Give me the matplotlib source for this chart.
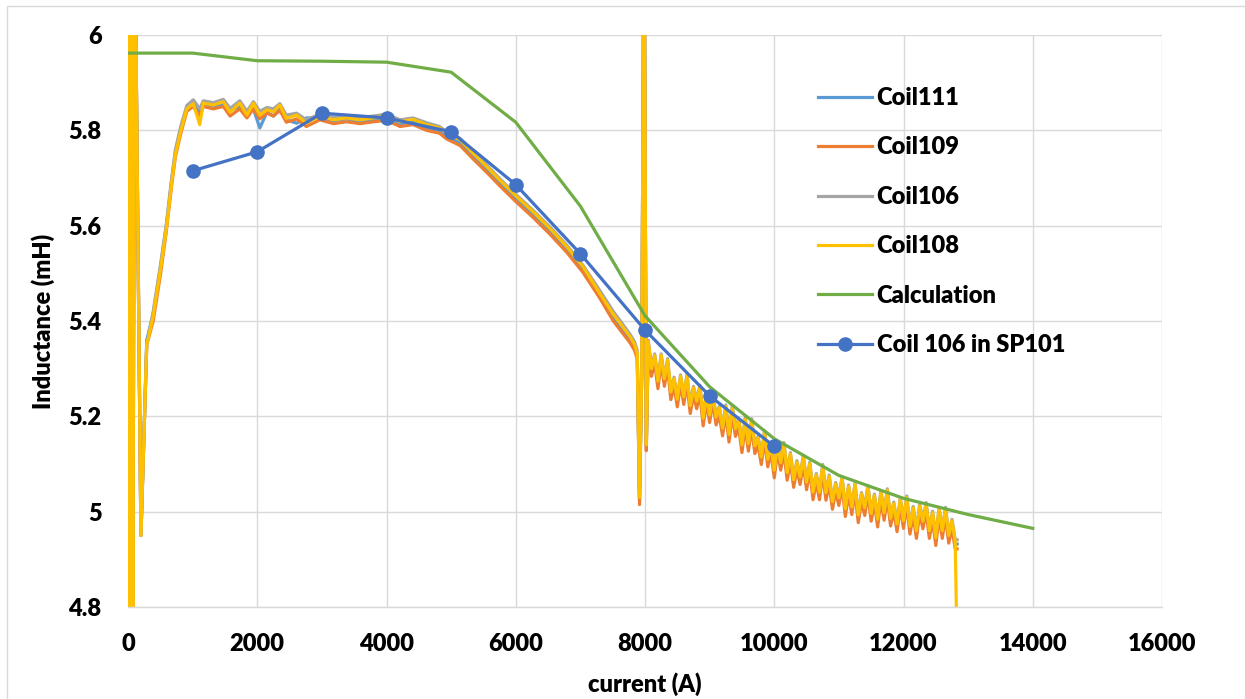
import matplotlib
matplotlib.use("Agg")
import matplotlib.pyplot as plt
from matplotlib.patches import Rectangle
from matplotlib.ticker import FuncFormatter
from matplotlib.font_manager import FontProperties

plt.rcParams['font.family'] = ['Lato', 'DejaVu Sans']
bold = FontProperties(family='Lato', weight='heavy', size=17)

# current sweep of the coil measurements (A)
current = [
    0, 25, 50, 75, 100, 200, 290, 390, 505, 590,
    676, 734, 820, 910, 1010, 1110, 1165, 1320, 1475, 1580,
    1730, 1840, 1940, 2040, 2150, 2250, 2350, 2450, 2610, 2760,
    2970, 3180, 3380, 3590, 3800, 4000, 4210, 4410, 4620, 4820,
    4930, 5140, 5340, 5550, 5750, 5990, 6270, 6530, 6790, 7040,
    7300, 7510, 7770, 7840, 7880, 7915, 7950, 7985, 8020,
    8050, 8100, 8150, 8200, 8250, 8300, 8350, 8400, 8450, 8500,
    8550, 8600, 8650, 8700, 8750, 8800, 8850, 8900, 8950, 9000,
    9050, 9100, 9150, 9200, 9250, 9300, 9350, 9400, 9450, 9500,
    9550, 9600, 9650, 9700, 9750, 9800, 9850, 9900, 9950, 10000,
    10050, 10100, 10150, 10200, 10250, 10300, 10350, 10400, 10450, 10500,
    10550, 10600, 10650, 10700, 10750, 10800, 10850, 10900, 10950, 11000,
    11050, 11100, 11150, 11200, 11250, 11300, 11350, 11400, 11450, 11500,
    11550, 11600, 11650, 11700, 11750, 11800, 11850, 11900, 11950, 12000,
    12050, 12100, 12150, 12200, 12250, 12300, 12350, 12400, 12450, 12500,
    12550, 12600, 12650, 12700, 12750, 12800, 12830,
]

coil111 = [
    6.30, 4.60, 6.30, 4.60, 6.30, 4.95, 5.36, 5.415, 5.515, 5.595,
    5.695, 5.755, 5.805, 5.848, 5.858, 5.840, 5.852, 5.850, 5.855, 5.842,
    5.850, 5.836, 5.845, 5.805, 5.838, 5.830, 5.845, 5.822, 5.815, 5.826,
    5.826, 5.820, 5.824, 5.818, 5.822, 5.826, 5.814, 5.818, 5.806, 5.798,
    5.788, 5.774, 5.746, 5.718, 5.690, 5.658, 5.623, 5.588, 5.550, 5.508,
    5.452, 5.408, 5.362, 5.345, 5.327, 5.025, 5.296, 6.30, 5.137,
    5.351, 5.294, 5.322, 5.268, 5.322, 5.273, 5.312, 5.245, 5.273, 5.230,
    5.278, 5.235, 5.279, 5.216, 5.254, 5.226, 5.256, 5.190, 5.239, 5.197,
    5.241, 5.192, 5.212, 5.169, 5.215, 5.156, 5.213, 5.168, 5.187, 5.134,
    5.188, 5.137, 5.186, 5.132, 5.149, 5.109, 5.161, 5.104, 5.135, 5.081,
    5.136, 5.097, 5.136, 5.076, 5.115, 5.061, 5.098, 5.067, 5.109, 5.056,
    5.095, 5.035, 5.071, 5.035, 5.090, 5.034, 5.068, 5.015, 5.052, 5.023,
    5.064, 5.000, 5.047, 5.004, 5.051, 4.987, 5.031, 5.002, 5.046, 4.990,
    5.028, 4.978, 5.035, 4.992, 5.039, 4.980, 5.011, 4.968, 5.020, 4.975,
    5.024, 4.963, 5.002, 4.954, 5.006, 4.974, 5.010, 4.954, 4.992, 4.939,
    4.999, 4.954, 5.000, 4.944, 4.975, 4.932, 4.932,
]

coil109 = [
    6.30, 4.60, 6.30, 4.60, 6.30, 4.95, 5.35, 5.40, 5.50, 5.585,
    5.685, 5.745, 5.795, 5.840, 5.850, 5.830, 5.850, 5.845, 5.850, 5.830,
    5.845, 5.826, 5.845, 5.824, 5.836, 5.830, 5.842, 5.817, 5.824, 5.808,
    5.822, 5.814, 5.818, 5.814, 5.818, 5.821, 5.808, 5.812, 5.800, 5.794,
    5.782, 5.768, 5.740, 5.712, 5.684, 5.652, 5.617, 5.582, 5.544, 5.502,
    5.448, 5.400, 5.354, 5.338, 5.320, 5.015, 5.290, 6.30, 5.128,
    5.341, 5.284, 5.312, 5.258, 5.312, 5.263, 5.302, 5.235, 5.263, 5.220,
    5.268, 5.225, 5.269, 5.206, 5.244, 5.216, 5.246, 5.180, 5.229, 5.187,
    5.231, 5.182, 5.202, 5.159, 5.205, 5.146, 5.203, 5.158, 5.177, 5.124,
    5.178, 5.127, 5.176, 5.122, 5.139, 5.099, 5.151, 5.094, 5.125, 5.071,
    5.126, 5.087, 5.126, 5.066, 5.105, 5.051, 5.088, 5.057, 5.099, 5.046,
    5.085, 5.025, 5.061, 5.025, 5.080, 5.024, 5.058, 5.005, 5.042, 5.013,
    5.054, 4.990, 5.037, 4.994, 5.041, 4.977, 5.021, 4.992, 5.036, 4.980,
    5.018, 4.968, 5.025, 4.982, 5.029, 4.970, 5.001, 4.958, 5.010, 4.965,
    5.014, 4.953, 4.992, 4.944, 4.996, 4.964, 5.000, 4.944, 4.982, 4.929,
    4.989, 4.944, 4.990, 4.934, 4.965, 4.922, 4.922,
]

coil106 = [
    6.30, 4.60, 6.30, 4.60, 6.30, 4.95, 5.35, 5.42, 5.52, 5.60,
    5.700, 5.760, 5.810, 5.852, 5.864, 5.845, 5.862, 5.858, 5.865, 5.846,
    5.862, 5.840, 5.860, 5.840, 5.848, 5.845, 5.856, 5.832, 5.836, 5.822,
    5.834, 5.828, 5.830, 5.827, 5.830, 5.834, 5.822, 5.826, 5.816, 5.808,
    5.797, 5.783, 5.755, 5.727, 5.699, 5.667, 5.632, 5.597, 5.559, 5.517,
    5.464, 5.420, 5.372, 5.356, 5.338, 5.035, 5.305, 6.30, 5.145,
    5.360, 5.303, 5.331, 5.277, 5.331, 5.282, 5.321, 5.254, 5.282, 5.239,
    5.287, 5.244, 5.288, 5.225, 5.263, 5.235, 5.265, 5.199, 5.248, 5.206,
    5.250, 5.201, 5.221, 5.178, 5.224, 5.165, 5.222, 5.177, 5.196, 5.143,
    5.197, 5.146, 5.195, 5.141, 5.158, 5.118, 5.170, 5.113, 5.144, 5.090,
    5.145, 5.106, 5.145, 5.085, 5.124, 5.070, 5.107, 5.076, 5.118, 5.065,
    5.104, 5.044, 5.080, 5.044, 5.099, 5.043, 5.077, 5.024, 5.061, 5.032,
    5.073, 5.009, 5.056, 5.013, 5.060, 4.996, 5.040, 5.011, 5.055, 4.999,
    5.037, 4.987, 5.044, 5.001, 5.048, 4.989, 5.020, 4.977, 5.029, 4.984,
    5.033, 4.972, 5.011, 4.963, 5.015, 4.983, 5.019, 4.963, 5.001, 4.948,
    5.008, 4.963, 5.009, 4.953, 4.984, 4.941, 4.941,
]

coil108 = [
    6.30, 4.60, 6.30, 4.60, 6.30, 4.95, 5.35, 5.41, 5.51, 5.59,
    5.69, 5.75, 5.80, 5.845, 5.856, 5.812, 5.857, 5.853, 5.860, 5.838,
    5.857, 5.832, 5.857, 5.832, 5.843, 5.839, 5.853, 5.825, 5.832, 5.815,
    5.830, 5.822, 5.826, 5.822, 5.826, 5.830, 5.818, 5.823, 5.812, 5.805,
    5.794, 5.780, 5.752, 5.724, 5.696, 5.664, 5.629, 5.594, 5.556, 5.514,
    5.458, 5.414, 5.367, 5.350, 5.332, 5.030, 5.300, 6.30, 5.140,
    5.357, 5.300, 5.328, 5.274, 5.328, 5.279, 5.318, 5.251, 5.279, 5.236,
    5.284, 5.241, 5.285, 5.222, 5.260, 5.232, 5.262, 5.196, 5.245, 5.203,
    5.247, 5.198, 5.218, 5.175, 5.221, 5.162, 5.219, 5.174, 5.193, 5.140,
    5.194, 5.143, 5.192, 5.138, 5.155, 5.115, 5.167, 5.110, 5.141, 5.087,
    5.142, 5.103, 5.142, 5.082, 5.121, 5.067, 5.104, 5.073, 5.115, 5.062,
    5.101, 5.041, 5.077, 5.041, 5.096, 5.040, 5.074, 5.021, 5.058, 5.029,
    5.070, 5.006, 5.053, 5.010, 5.057, 4.993, 5.037, 5.008, 5.052, 4.996,
    5.034, 4.984, 5.041, 4.998, 5.045, 4.986, 5.017, 4.974, 5.026, 4.981,
    5.030, 4.969, 5.008, 4.960, 5.012, 4.980, 5.016, 4.960, 4.998, 4.945,
    5.005, 4.960, 5.006, 4.950, 4.981, 4.938, 4.700,
]

# calculated inductance
calc_current = [0, 1000, 2000, 3000, 4000, 5000, 6000, 7000, 8000,
                9000, 10000, 11000, 12000, 13000, 14000]
calc_L = [5.962, 5.962, 5.946, 5.945, 5.943, 5.922, 5.817, 5.641, 5.411,
          5.262, 5.153, 5.076, 5.028, 4.994, 4.965]

# coil 106 measured in SP101
sp_current = [1000, 2000, 3000, 4000, 5000, 6000, 7000, 8000, 9000, 10000]
sp_L = [5.715, 5.755, 5.836, 5.826, 5.797, 5.686, 5.541, 5.381, 5.243, 5.137]

W, H = 1245, 699
fig = plt.figure(figsize=(W / 100, H / 100), dpi=100)
ax = fig.add_axes([128 / W, 1 - 607 / H, (1162 - 128) / W, (607 - 35) / H])

lw = 2.3
ax.plot(current, coil111, color='#5B9BD5', lw=lw, label='Coil111')
ax.plot(current, coil109, color='#ED7D31', lw=lw, label='Coil109')
ax.plot(current, coil106, color='#A5A5A5', lw=lw, label='Coil106')
ax.plot(current, coil108, color='#FFC000', lw=lw, label='Coil108')
ax.plot(calc_current, calc_L, color='#70AD47', lw=lw, label='Calculation')
ax.plot(sp_current, sp_L, color='#4472C4', lw=lw, marker='o', ms=9.5,
        label='Coil 106 in SP101')

ax.set_xlim(0, 16000)
ax.set_ylim(4.8, 6.0)
ax.set_xticks(range(0, 16001, 2000))
ax.set_yticks([4.8, 5.0, 5.2, 5.4, 5.6, 5.8, 6.0])
ax.yaxis.set_major_formatter(FuncFormatter(lambda v, p: f"{round(v, 1):g}"))
ax.grid(True, color='#D9D9D9', lw=1.0)
ax.set_axisbelow(True)
for s in ['top', 'right', 'left']:
    ax.spines[s].set_visible(False)
ax.spines['bottom'].set_color('#D9D9D9')
ax.spines['bottom'].set_linewidth(1.0)
ax.tick_params(axis='both', length=0, colors='black')
ax.tick_params(axis='y', pad=19)
ax.tick_params(axis='x', pad=19)
for t in ax.get_xticklabels() + ax.get_yticklabels():
    t.set_fontproperties(bold)

ax.set_xlabel('current (A)', fontproperties=bold, labelpad=12)
ax.set_ylabel('Inductance (mH)', fontproperties=bold, labelpad=10)

ax.legend(loc='upper left', bbox_to_anchor=(0.667, 0.909), frameon=False,
          prop=bold, handlelength=2.3, handletextpad=0.2,
          labelspacing=1.16, borderaxespad=0, borderpad=0)

fig.patches.append(Rectangle((7 / W, -0.1), 2, 1 - 6 / H + 0.1,
                             transform=fig.transFigure, fill=False,
                             ec='#D9D9D9', lw=1.0))

fig.savefig('out.png', dpi=100)
